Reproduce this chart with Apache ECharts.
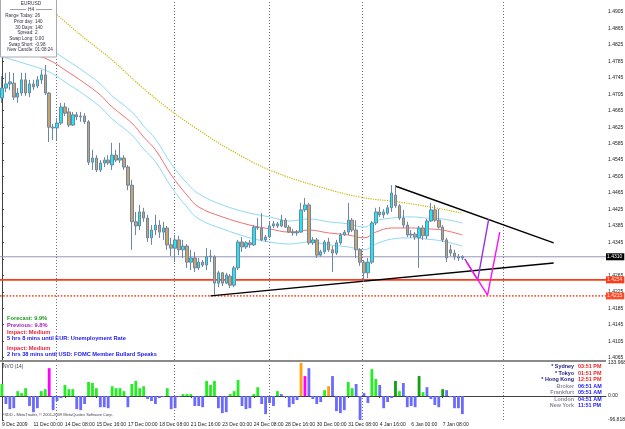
<!DOCTYPE html>
<html>
<head>
<meta charset="utf-8">
<script src="https://cdn.jsdelivr.net/npm/echarts@6/dist/echarts.min.js"></script>
<style>
html, body { margin: 0; padding: 0; background: #fff; }
#chart { width: 625px; height: 429px; }
</style>
</head>
<body>
<div id="chart"></div>
<script>
// EURUSD H4, bars from 9 Dec 2009 16:00 to 8 Jan 2010 04:00
let bar_open = [1.4696,1.4720,1.4730,1.4732,1.4698,1.4708,1.4740,1.4708,1.4730,1.4725,1.4740,1.4752,1.4708,1.4625,1.4623,1.4635,1.4674,1.4662,1.4630,1.4655,
  1.4650,1.4652,1.4638,1.4540,1.4550,1.4521,1.4538,1.4545,1.4533,1.4557,1.4545,1.4550,1.4528,1.4484,1.4395,1.4385,1.4419,1.4404,1.4356,1.4375,
  1.4387,1.4370,1.4380,1.4339,1.4331,1.4351,1.4327,1.4336,1.4297,1.4307,1.4283,1.4297,1.4290,1.4310,1.4310,1.4246,1.4271,1.4246,1.4263,1.4241,
  1.4283,1.4346,1.4334,1.4344,1.4339,1.4382,1.4380,1.4351,1.4358,1.4385,1.4390,1.4385,1.4399,1.4382,1.4370,1.4368,1.4370,1.4424,1.4436,1.4344,
  1.4351,1.4314,1.4322,1.4346,1.4327,1.4319,1.4344,1.4363,1.4370,1.4399,1.4375,1.4327,1.4297,1.4271,1.4297,1.4392,1.4419,1.4412,1.4416,1.4429,
  1.4460,1.4434,1.4404,1.4387,1.4363,1.4365,1.4356,1.4380,1.4361,1.4397,1.4424,1.4399,1.4382,1.4351,1.4327,1.4319,1.4310,1.4307];
let bar_close = [1.4720,1.4730,1.4735,1.4698,1.4708,1.4740,1.4708,1.4730,1.4723,1.4740,1.4752,1.4708,1.4625,1.4623,1.4635,1.4674,1.4659,1.4630,1.4655,1.4650,
  1.4652,1.4638,1.4540,1.4550,1.4521,1.4538,1.4545,1.4538,1.4557,1.4545,1.4550,1.4528,1.4484,1.4395,1.4385,1.4419,1.4404,1.4356,1.4375,1.4387,
  1.4370,1.4380,1.4339,1.4331,1.4351,1.4327,1.4336,1.4297,1.4307,1.4283,1.4297,1.4290,1.4310,1.4312,1.4246,1.4271,1.4246,1.4266,1.4241,1.4283,
  1.4346,1.4334,1.4344,1.4339,1.4382,1.4380,1.4351,1.4358,1.4385,1.4390,1.4385,1.4399,1.4382,1.4370,1.4368,1.4370,1.4424,1.4436,1.4344,1.4351,
  1.4314,1.4322,1.4346,1.4327,1.4319,1.4344,1.4363,1.4370,1.4399,1.4375,1.4327,1.4297,1.4271,1.4297,1.4392,1.4419,1.4412,1.4419,1.4429,1.4465,
  1.4434,1.4404,1.4387,1.4363,1.4365,1.4358,1.4380,1.4361,1.4397,1.4424,1.4399,1.4382,1.4351,1.4307,1.4319,1.4310,1.4307,1.4310];
let bar_low = [1.4684,1.4710,1.4715,1.4691,1.4684,1.4701,1.4701,1.4698,1.4715,1.4720,1.4730,1.4703,1.4589,1.4594,1.4594,1.4630,1.4652,1.4625,1.4628,1.4642,
  1.4638,1.4633,1.4533,1.4521,1.4516,1.4516,1.4528,1.4533,1.4521,1.4540,1.4538,1.4521,1.4472,1.4327,1.4363,1.4375,1.4395,1.4346,1.4339,1.4363,
  1.4356,1.4351,1.4327,1.4312,1.4297,1.4314,1.4307,1.4283,1.4278,1.4273,1.4278,1.4285,1.4278,1.4297,1.4217,1.4236,1.4239,1.4244,1.4234,1.4236,
  1.4278,1.4322,1.4329,1.4331,1.4336,1.4375,1.4348,1.4346,1.4356,1.4380,1.4380,1.4382,1.4380,1.4368,1.4361,1.4361,1.4368,1.4419,1.4339,1.4339,
  1.4307,1.4310,1.4317,1.4322,1.4273,1.4314,1.4339,1.4361,1.4363,1.4370,1.4307,1.4288,1.4249,1.4258,1.4292,1.4387,1.4407,1.4404,1.4412,1.4419,
  1.4429,1.4399,1.4380,1.4358,1.4356,1.4351,1.4283,1.4351,1.4353,1.4395,1.4395,1.4378,1.4346,1.4297,1.4312,1.4302,1.4300,1.4302];
let bar_high = [1.4749,1.4757,1.4759,1.4757,1.4720,1.4757,1.4757,1.4740,1.4740,1.4749,1.4764,1.4776,1.4710,1.4633,1.4647,1.4684,1.4684,1.4672,1.4662,1.4662,
  1.4662,1.4659,1.4642,1.4570,1.4557,1.4545,1.4552,1.4557,1.4587,1.4570,1.4587,1.4557,1.4533,1.4497,1.4419,1.4436,1.4429,1.4412,1.4387,1.4412,
  1.4399,1.4395,1.4385,1.4356,1.4363,1.4361,1.4351,1.4341,1.4327,1.4322,1.4307,1.4302,1.4331,1.4327,1.4314,1.4276,1.4273,1.4271,1.4268,1.4288,
  1.4351,1.4358,1.4348,1.4351,1.4387,1.4404,1.4416,1.4363,1.4395,1.4397,1.4395,1.4412,1.4404,1.4387,1.4378,1.4375,1.4441,1.4453,1.4441,1.4358,
  1.4356,1.4327,1.4351,1.4356,1.4336,1.4351,1.4368,1.4375,1.4441,1.4404,1.4399,1.4331,1.4302,1.4307,1.4397,1.4429,1.4431,1.4426,1.4436,1.4484,
  1.4482,1.4438,1.4424,1.4395,1.4375,1.4370,1.4385,1.4387,1.4402,1.4441,1.4436,1.4426,1.4387,1.4356,1.4339,1.4327,1.4317,1.4314];

// moving average + envelope, read at sampled bars [bar, price]
let ma_mid = [[0,1.4825],[6,1.4808],[12,1.4788],[16,1.4764],[21,1.4732],[25,1.4703],[28,1.4674],[33,1.4635],[36,1.4601],[39,1.4570],[43,1.4509],[47,1.4460],[50,1.4431],[56,1.4407],[63,1.4387],[68,1.4378],[73,1.4370],[78,1.4375],[83,1.4368],[88,1.4363],[92,1.4356],[95,1.4370],[99,1.4380],[104,1.4380],[108,1.4378],[112,1.4375],[117,1.4363]];
let ma_up = [[0,1.4851],[6,1.4834],[12,1.4815],[16,1.4791],[21,1.4759],[25,1.4730],[28,1.4701],[33,1.4662],[36,1.4628],[39,1.4596],[43,1.4536],[47,1.4489],[50,1.4463],[56,1.4436],[63,1.4416],[68,1.4407],[73,1.4397],[78,1.4402],[83,1.4395],[88,1.4390],[92,1.4382],[95,1.4397],[99,1.4404],[104,1.4407],[108,1.4404],[112,1.4402],[117,1.4392]];
let ma_dn = [[0,1.4796],[6,1.4779],[12,1.4759],[16,1.4735],[21,1.4703],[25,1.4674],[28,1.4645],[33,1.4606],[36,1.4572],[39,1.4541],[43,1.4480],[47,1.4431],[50,1.4402],[56,1.4378],[63,1.4356],[68,1.4346],[73,1.4341],[78,1.4346],[83,1.4339],[88,1.4334],[92,1.4327],[95,1.4341],[99,1.4353],[104,1.4356],[108,1.4353],[112,1.4348],[117,1.4336]];
let ma_slow = [[8,1.4949],[14,1.4898],[20,1.4849],[28,1.4788],[35,1.4727],[42,1.4672],[50,1.4618],[58,1.4570],[68,1.4521],[80,1.4482],[91,1.4455],[101,1.4443],[110,1.4429],[117,1.4416]];

// drawn objects
let trend_upper = [[99.9,1.4482],[140.2,1.4344]];
let trend_lower = [[53,1.4215],[140.2,1.4295]];
let path_purple = [[117.6,1.4305],[120.9,1.4254],[123.7,1.4402]];
let path_magenta = [[118.1,1.4297],[123.4,1.4217],[126.5,1.4370]];
let week_lines = [13.7, 43.7, 67.8, 91.6, 127.5];
let bid_price = 1.4310;
let level_red = 1.4254;
let level_red2 = 1.4215;

// NVO (14) histogram
let nvo = [49,-32,-53,-49,20,12,32,-40,-65,-49,20,28,113,-57,-20,-8,45,28,28,-53,
  -57,-32,57,53,32,-45,-45,-49,40,32,32,20,-45,49,61,32,40,-12,-20,-32,
  -8,-4,32,-53,-49,-3,8,8,8,-40,-40,-45,61,45,61,-49,-69,-65,8,20,
  65,-40,-53,-49,8,36,-32,-73,-28,-40,20,8,-4,-45,-32,-16,133.968,81,113,-12,
  -32,-24,24,40,81,-61,-69,-57,57,32,49,-96.818,12,-28,109,69,45,-49,-24,-8,
  61,20,53,-45,-40,-45,81,16,36,-12,-36,-45,28,24,-4,-49,-49,-73];
let nvo_kind = 'gbbbgggbbbggmbbbgggbbbgggbbbggggbggggbbbbbgbbbgggbbbgggbbbgggbbbggbbbggbbbbmombbbdgobbbgggbdbmggbbbgdgbbbodgbbbddbbbb';

let slot_count = 154;
let time_ticks = [[0,'9 Dec 2009'],[8,'11 Dec 00:00'],[16,'14 Dec 08:00'],[24,'15 Dec 16:00'],[32,'17 Dec 00:00'],[40,'18 Dec 08:00'],[48,'21 Dec 16:00'],[56,'23 Dec 00:00'],[64,'24 Dec 08:00'],[72,'28 Dec 16:00'],[80,'30 Dec 00:00'],[88,'31 Dec 08:00'],[96,'4 Jan 16:00'],[104,'6 Jan 00:00'],[112,'7 Jan 08:00']];
let price_ticks = [1.4065,1.4105,1.4145,1.4185,1.4225,1.4265,1.4305,1.4345,1.4385,1.4425,1.4465,1.4505,1.4545,1.4585,1.4625,1.4665,1.4705,1.4745,1.4785,1.4825,1.4865,1.4905];
let nvo_ticks = [-96.818, 0, 133.968];

let info_rows = [['Range Today:','26'],['Prior day:','140'],['30 Days:','140'],['Spread:','2'],['Swap Long:','0.00'],['Swap Short:','-0.98'],['New Candle:','01:08:24']];
let news_rows = [['Forecast: 9.9%','#1a9a1a'],['Previous: 9.8%','#a020c0'],['Impact: Medium','#f0203a'],['5 hrs 8 mins until EUR: Unemployment Rate','#2020f0'],['Impact: Medium','#f0203a'],['2 hrs 38 mins until USD: FOMC Member Bullard Speaks','#2020f0']];
let clock_rows = [['* Sydney','03:51 PM'],['* Tokyo','01:51 PM'],['* Hong Kong','12:51 PM'],['Broker','06:51 AM'],['Frankfurt','05:51 AM'],['London','04:51 AM'],['New York','11:51 PM']];

let chart = echarts.init(document.getElementById('chart'));

let label_at = {};
time_ticks.forEach(t => { label_at[t[0]] = t[1]; });
let slots = [];
for (let i = 0; i < slot_count; i++) slots.push(String(i));

let candles = bar_open.map((o, i) => [o, bar_close[i], bar_low[i], bar_high[i]]);

let kind_color = { g: '#22ee22', d: '#10a010', m: '#ff00ff', o: '#ffa010', b: '#6a6aff' };
let nvo_data = nvo.map((v, i) => ({
    value: v,
    itemStyle: { color: v < 0 ? kind_color.b : kind_color[nvo_kind[i]] || kind_color.g }
}));

const FONT = 'Liberation Sans';

function txt(x, y, s, color, size, opts) {
    opts = opts || {};
    return {
        type: 'text', z: 100,
        style: {
            x: x, y: y, text: s, fill: color,
            fontSize: size, fontFamily: FONT, fontWeight: opts.bold ? 'bold' : 'normal',
            align: opts.align || 'left', verticalAlign: 'middle'
        }
    };
}

let graphics = [];
// panel separator
graphics.push({ type: 'rect', z: 90, shape: { x: 0, y: 360, width: 606, height: 2 }, style: { fill: '#8a8a8a' } });
// info box
graphics.push({ type: 'rect', z: 95, shape: { x: 0.5, y: -1, width: 56, height: 58 }, style: { fill: '#fff', stroke: '#a8a8b8', lineWidth: 1 } });
graphics.push(txt(31, 3.5, 'EURUSD', '#303040', 4.8, { align: 'center' }));
graphics.push(txt(31, 9.5, 'H4', '#303040', 4.8, { align: 'center' }));
graphics.push({ type: 'line', z: 100, shape: { x1: 10, y1: 9.5, x2: 26, y2: 9.5 }, style: { stroke: '#606070', lineWidth: 0.6 } });
graphics.push({ type: 'line', z: 100, shape: { x1: 36, y1: 9.5, x2: 52, y2: 9.5 }, style: { stroke: '#606070', lineWidth: 0.6 } });
info_rows.forEach((r, k) => {
    let y = 16 + k * 5.7;
    graphics.push(txt(33.5, y, r[0], '#303040', 4.6, { align: 'right' }));
    graphics.push(txt(35, y, r[1], '#303040', 4.6));
});
// news block
let news_y = [318, 325, 332, 338.5, 348, 354.5];
news_rows.forEach((r, k) => {
    graphics.push(txt(7, news_y[k], r[0], r[1], 5.7, { bold: true }));
});
// sessions clock
clock_rows.forEach((r, k) => {
    let y = 367 + k * 6.5;
    graphics.push(txt(574, y, r[0], k < 3 ? '#1a1a80' : '#8a8a9a', 5.4, { bold: true, align: 'right' }));
    graphics.push(txt(578, y, r[1], k < 3 ? '#f02020' : '#1a1af0', 5.4, { bold: true }));
});
graphics.push(txt(3, 367, 'NVO (14)', '#404040', 4.8));
graphics.push(txt(2, 415, 'FXDD - MetaTrader, \u00a9 2001-2009 MetaQuotes Software Corp.', '#404050', 4));

function overlay(name, data, color, width, type, smooth) {
    return {
        name: name, type: 'line', xAxisIndex: 1, yAxisIndex: 0,
        data: data, showSymbol: false, symbol: 'none', smooth: smooth || false,
        lineStyle: { color: color, width: width, type: type || 'solid' },
        silent: true, z: 5
    };
}

// horizontal price line across the whole panel with a price box on the axis
function level(name, price, color, width, type, box, ink) {
    let s = overlay(name, [[-0.5, price], [slot_count - 0.5, price]], color, width, type);
    s.z = 4;
    s.endLabel = {
        show: true, distance: 0, formatter: () => price.toFixed(4),
        color: ink, backgroundColor: box, fontSize: 5, fontFamily: FONT, padding: [1, 2, 1, 1]
    };
    return s;
}

let option = {
    animation: false,
    backgroundColor: '#fff',
    grid: [
        { left: 0, top: 0, width: 606, height: 360, outerBoundsMode: 'none' },
        { left: 0, top: 363, width: 606, height: 57, outerBoundsMode: 'none' }
    ],
    xAxis: [
        { type: 'category', gridIndex: 0, data: slots, show: false },
        { type: 'value', gridIndex: 0, min: -0.5, max: slot_count - 0.5, show: false },
        {
            type: 'category', gridIndex: 1, data: slots,
            axisLine: { show: true, lineStyle: { color: '#404040', width: 1 } },
            axisTick: { show: true, length: 2, alignWithLabel: true, interval: i => label_at[i] !== undefined, lineStyle: { color: '#404040' } },
            axisLabel: {
                show: true, interval: i => label_at[i] !== undefined,
                formatter: (v, i) => label_at[i] || '',
                align: 'left', fontSize: 5, fontFamily: FONT, color: '#202020', margin: 2
            },
            splitLine: { show: false }
        },
        { type: 'value', gridIndex: 1, min: -0.5, max: slot_count - 0.5, show: false }
    ],
    yAxis: [
        {
            type: 'value', gridIndex: 0, position: 'right', min: 1.40592, max: 1.4934,
            axisLine: { show: true, lineStyle: { color: '#404040', width: 1 } },
            axisTick: { show: true, length: 2, customValues: price_ticks, lineStyle: { color: '#404040' } },
            axisLabel: { show: true, customValues: price_ticks, formatter: v => v.toFixed(4), fontSize: 5, fontFamily: FONT, color: '#202020', margin: 2 },
            splitLine: { show: false }
        },
        {
            type: 'value', gridIndex: 1, position: 'right', min: -96.818, max: 133.968,
            axisLine: { show: true, lineStyle: { color: '#404040', width: 1 } },
            axisTick: { show: true, length: 2, customValues: nvo_ticks, lineStyle: { color: '#404040' } },
            axisLabel: { show: true, customValues: nvo_ticks, formatter: v => v === 0 ? '0.00' : v.toFixed(3), fontSize: 5, fontFamily: FONT, color: '#202020', margin: 2 },
            splitLine: { show: false }
        }
    ],
    series: [
        level('bid', bid_price, '#9494bc', 1, 'solid', '#000', '#fff'),
        level('level_red', level_red, '#ff3a1a', 1.6, 'solid', '#ff3a1a', '#ffe8e0'),
        level('level_red2', level_red2, '#ff5a3a', 1.6, 'dotted', '#ff4a2a', '#ffe8e0'),
        overlay('ma_slow', ma_slow, '#c8b400', 1.2, 'dotted', 0.4),
        overlay('ma_up', ma_up, '#8fd8f4', 1, 'solid', 0.4),
        overlay('ma_mid', ma_mid, '#f07070', 1, 'solid', 0.4),
        overlay('ma_dn', ma_dn, '#8fd8f4', 1, 'solid', 0.4),
        {
            name: 'EURUSD', type: 'candlestick', xAxisIndex: 0, yAxisIndex: 0,
            data: candles, barWidth: 3, z: 6,
            itemStyle: { color: '#1ee8f0', color0: '#c9a466', borderColor: '#6d86a6', borderColor0: '#6d86a6', borderWidth: 1 }
        },
        Object.assign(overlay('trend_upper', trend_upper, '#000', 1.4), {
            markLine: {
                silent: true, symbol: 'none', label: { show: false },
                lineStyle: { color: '#6a6a8a', width: 1, type: [1, 2] },
                data: week_lines.map(x => ({ xAxis: x }))
            }
        }),
        overlay('trend_lower', trend_lower, '#000', 1.4),
        overlay('path_purple', path_purple, '#9a30e0', 1.4),
        overlay('path_magenta', path_magenta, '#ff10f0', 1.4),
        {
            name: 'NVO', type: 'bar', xAxisIndex: 2, yAxisIndex: 1,
            data: nvo_data, barWidth: 2.8, silent: true
        },
        {
            name: 'sep', type: 'line', xAxisIndex: 3, yAxisIndex: 1, data: [], silent: true,
            markLine: {
                silent: true, symbol: 'none', label: { show: false },
                lineStyle: { color: '#6a6a8a', width: 1, type: [1, 2] },
                data: week_lines.map(x => ({ xAxis: x }))
            }
        }
    ],
    graphic: graphics
};

chart.setOption(option);
</script>
</body>
</html>
